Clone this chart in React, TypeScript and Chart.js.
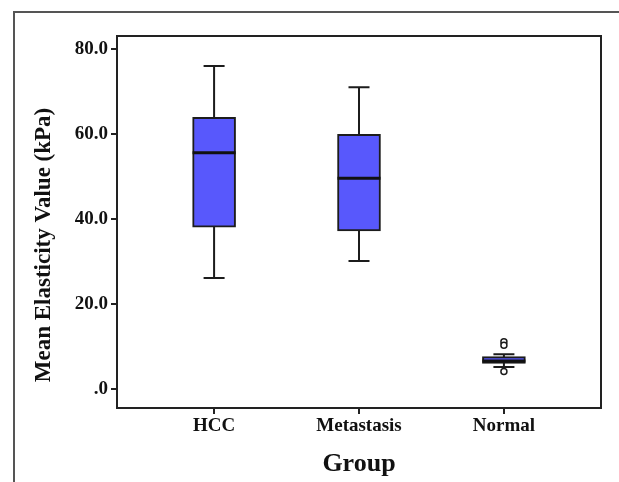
import React, { useEffect, useRef } from "react";
import { Chart, registerables } from "chart.js";

Chart.register(...registerables);

const categories = ["HCC", "Metastasis", "Normal"];
const whiskerMin = [26.1, 30.1, 5.2];
const q1 = [38.1, 37.2, 6.0];
const median = [55.6, 49.6, 6.6];
const q3 = [63.9, 59.9, 7.6];
const whiskerMax = [76.0, 71.0, 8.2];
const outlierGroup = [2, 2, 2];
const outlierValues = [4.1, 11.1, 10.3];
const yTicks = [0, 20, 40, 60, 80];

const FONT = "'Liberation Serif', 'Times New Roman', serif";
const BOX_FILL = "#5858fc";
const INK = "#1c1c1c";

const boxPlugin = {
  id: "boxExtras",
  beforeDraw(chart: any) {
    const ctx = chart.ctx;
    ctx.save();
    ctx.strokeStyle = "#555";
    ctx.lineWidth = 2;
    ctx.beginPath();
    ctx.moveTo(14, chart.height);
    ctx.lineTo(14, 12);
    ctx.lineTo(chart.width, 12);
    ctx.stroke();
    // y title
    ctx.fillStyle = "#111";
    ctx.font = `bold 23px ${FONT}`;
    ctx.textAlign = "center";
    ctx.textBaseline = "middle";
    ctx.translate(44, 245);
    ctx.rotate(-Math.PI / 2);
    ctx.fillText("Mean Elasticity Value (kPa)", 0, 0);
    ctx.restore();
  },
  beforeDatasetsDraw(chart: any) {
    const ctx = chart.ctx;
    const xs = chart.scales.x;
    const ys = chart.scales.y;
    ctx.save();
    ctx.strokeStyle = INK;
    ctx.lineWidth = 2;
    categories.forEach((_, i) => {
      const x = xs.getPixelForValue(i);
      const top = ys.getPixelForValue(whiskerMax[i]);
      const bot = ys.getPixelForValue(whiskerMin[i]);
      ctx.beginPath();
      ctx.moveTo(x, top);
      ctx.lineTo(x, bot);
      ctx.moveTo(x - 10.5, top);
      ctx.lineTo(x + 10.5, top);
      ctx.moveTo(x - 10.5, bot);
      ctx.lineTo(x + 10.5, bot);
      ctx.stroke();
    });
    ctx.restore();
  },
  afterDatasetsDraw(chart: any) {
    const ctx = chart.ctx;
    const xs = chart.scales.x;
    const ys = chart.scales.y;
    const meta = chart.getDatasetMeta(0);
    ctx.save();
    ctx.strokeStyle = "#111";
    ctx.lineWidth = 3;
    categories.forEach((_, i) => {
      const bar = meta.data[i];
      const half = bar.width / 2;
      const x = xs.getPixelForValue(i);
      const y = ys.getPixelForValue(median[i]);
      ctx.beginPath();
      ctx.moveTo(x - half, y);
      ctx.lineTo(x + half, y);
      ctx.stroke();
    });
    const a = chart.chartArea;
    ctx.strokeStyle = "#222";
    ctx.lineWidth = 2;
    ctx.strokeRect(a.left, a.top, a.right - a.left, a.bottom - a.top);
    ctx.restore();
  },
};

export default function App() {
  const ref = useRef<HTMLCanvasElement>(null);
  useEffect(() => {
    document.body.style.margin = "0";
    const chart = new Chart(ref.current!, {
      type: "bar",
      data: {
        datasets: [
          {
            type: "bar",
            data: categories.map((_, i) => ({ x: i, y: [q1[i], q3[i]] })) as any,
            backgroundColor: BOX_FILL,
            borderColor: INK,
            borderWidth: 2,
            borderSkipped: false,
            barThickness: 43,
          } as any,
          {
            type: "scatter",
            data: outlierValues.map((v, i) => ({ x: outlierGroup[i], y: v })),
            pointStyle: "circle",
            pointRadius: 3,
            backgroundColor: "#fff",
            borderColor: INK,
            borderWidth: 1.5,
          } as any,
        ],
      },
      options: {
        responsive: false,
        animation: false,
        layout: { padding: { left: 0, top: 36, right: 18, bottom: 0 } },
        plugins: { legend: { display: false }, tooltip: { enabled: false } },
        scales: {
          x: {
            type: "linear",
            offset: false,
            min: -0.67,
            max: 2.67,
            afterBuildTicks: (s: any) => {
              s.ticks = categories.map((_, i) => ({ value: i }));
            },
            afterFit: (s: any) => {
              s.height = 74;
            },
            ticks: {
              callback: (v: any) => categories[v] ?? "",
              font: { family: FONT, size: 19, weight: "bold" },
              color: "#111",
              padding: 1,
              maxRotation: 0,
            },
            grid: { offset: false, drawOnChartArea: false, tickLength: 6, color: "#222", lineWidth: 2 },
            border: { display: false },
            title: {
              display: true,
              text: "Group",
              font: { family: FONT, size: 26, weight: "bold" },
              color: "#111",
              padding: { top: 2, bottom: 2 },
            },
          },
          y: {
            type: "linear",
            min: -4.47,
            max: 83.06,
            afterBuildTicks: (s: any) => {
              s.ticks = yTicks.map((v) => ({ value: v }));
            },
            afterFit: (s: any) => {
              s.width = 117;
            },
            ticks: {
              callback: (v: any) => (v === 0 ? ".0" : Number(v).toFixed(1)),
              font: { family: FONT, size: 19, weight: "bold" },
              color: "#111",
              padding: 3,
            },
            grid: { drawOnChartArea: false, tickLength: 6, color: "#222", lineWidth: 2 },
            border: { display: false },
          },
        },
      },
      plugins: [boxPlugin],
    });
    return () => chart.destroy();
  }, []);
  return <canvas ref={ref} width={619} height={482} />;
}
